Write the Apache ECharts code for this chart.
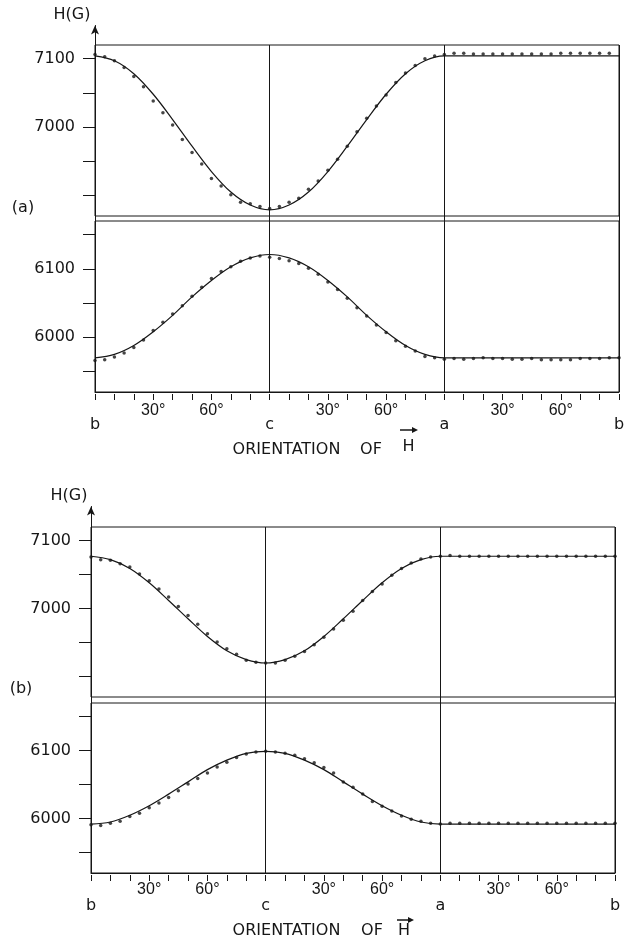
<!DOCTYPE html>
<html><head><meta charset="utf-8">
<script src="https://cdn.jsdelivr.net/npm/echarts@6/dist/echarts.min.js"></script>
<style>html,body{margin:0;padding:0;background:#fff}#c{width:624px;height:941px}</style>
</head><body><div id="c"></div><script>
// ---- data (angles in degrees along b -> c -> a -> b) ----
const lineAngles = [0,10,20,30,40,50,60,70,80,90,100,110,120,130,140,150,160,170,180,190,200,210,220,230,240,250,260,270];
const dotAngles = [0,5,10,15,20,25,30,35,40,45,50,55,60,65,70,75,80,85,90,95,100,105,110,115,120,125,130,135,140,145,150,155,160,165,170,175,180,185,190,195,200,205,210,215,220,225,230,235,240,245,250,255,260,265,270];
const degreeLabelAngles = [30,60,120,150,210,240];
const axisLetterAngles = [0,90,180,270];
const axisLetters = ['b','c','a','b'];
const upperTicks = [6900,6950,7000,7050,7100];
const upperLabels = [7000,7100];
const lowerTicks = [5950,6000,6050,6100,6150];
const lowerLabels = [6000,6100];

// panel (a)
const lineAUpper = [7104,7097,7078,7048,7011,6972,6935,6905,6886,6879,6886,6905,6935,6972,7011,7048,7078,7097,7104,7104,7104,7104,7104,7104,7104,7104,7104,7104];
const dotsAUpper = [7106,7103,7097,7087,7074,7059,7038,7021,7003,6982,6963,6946,6925,6914,6901,6890,6888,6884,6881,
  6884,6890,6896,6909,6921,6937,6953,6972,6993,7013,7031,7047,7065,7079,7090,7100,7104,7106,
  7108,7108,7107,7107,7107,7107,7107,7107,7107,7107,7107,7108,7108,7108,7108,7108,7108,null];
const lineALower = [5970,5975,5988,6008,6032,6059,6083,6103,6116,6121,6116,6103,6083,6059,6032,6008,5988,5975,5970,5970,5970,5970,5970,5970,5970,5970,5970,5970];
const dotsALower = [5966,5967,5971,5977,5985,5996,6010,6022,6034,6046,6060,6073,6086,6096,6103,6111,6116,6119,6117,
  6115,6112,6108,6101,6092,6081,6070,6057,6043,6031,6018,6007,5995,5987,5980,5972,5970,5968,
  5969,5968,5969,5970,5969,5969,5968,5968,5969,5967,5967,5967,5967,5969,5969,5969,5970,5970];
// panel (b)
const lineBUpper = [7077,7072,7059,7038,7012,6985,6959,6938,6925,6920,6925,6938,6959,6985,7012,7038,7059,7072,7077,7077,7077,7077,7077,7077,7077,7077,7077,7077];
const dotsBUpper = [7076,7072,7071,7066,7061,7051,7041,7029,7017,7003,6990,6977,6963,6951,6941,6933,6924,6921,6920,
  6920,6924,6930,6937,6947,6958,6970,6983,6996,7012,7025,7036,7049,7059,7067,7073,7076,7077,
  7078,7077,7077,7077,7077,7077,7077,7077,7077,7077,7077,7077,7077,7077,7077,7077,7077,7077];
const lineBLower = [5992,5995,6005,6019,6036,6054,6072,6086,6096,6099,6096,6086,6072,6054,6036,6019,6005,5995,5992,5992,5992,5992,5992,5992,5992,5992,5992,5992];
const dotsBLower = [5991,5990,5993,5996,6003,6008,6016,6023,6031,6041,6051,6059,6067,6076,6083,6090,6095,6098,6099,
  6098,6096,6093,6088,6082,6075,6067,6054,6046,6036,6025,6018,6011,6004,5999,5996,5993,5992,
  5993,5993,5993,5993,5993,5993,5993,5993,5993,5993,5993,5993,5993,5993,5993,5993,5993,5993];

// ---- layout ----
const INK = '#161616';
const FONT = 'DejaVu Sans';
const panels = [
  {tag:'(a)', left:95, width:524, upTop:45, loTop:221, h:171, tip:21, hgX:72, hgY:15, tagX:23, tagY:208,
   titleY:450, hY:447, arrowY:430, oX:[286.5,371,408.5], hArrow:[400,417],
   up:lineAUpper, upDots:dotsAUpper, lo:lineALower, loDots:dotsALower, degMargin:11, letMargin:25},
  {tag:'(b)', left:91, width:524, upTop:527, loTop:703, h:170, tip:502, hgX:69, hgY:496, tagX:21, tagY:689,
   titleY:931, hY:931, arrowY:920, oX:[286.5,372,404], hArrow:[397,413],
   up:lineBUpper, upDots:dotsBUpper, lo:lineBLower, loDots:dotsBLower, degMargin:9, letMargin:25}
];

const grid = [], xAxis = [], yAxis = [], series = [], graphic = [];
const hidden = {axisLine:{show:false}, axisTick:{show:false}, axisLabel:{show:false}, splitLine:{show:false}};
const gridBase = {containLabel:false, outerBoundsMode:'none'};

function yAx(gi, min, max, ticks, labels){
  return {type:'value', gridIndex:gi, min, max,
    axisLine:{show:true, lineStyle:{color:INK, width:1}},
    axisTick:{show:true, length:12, customValues:ticks, lineStyle:{color:INK, width:1}},
    axisLabel:{customValues:labels, formatter:(v)=> String(v), margin:20, color:INK, fontFamily:FONT, fontSize:16},
    splitLine:{show:false}};
}

panels.forEach((p) => {
  const g0 = grid.length;
  // background grid: vertical c / a lines across both boxes
  grid.push(Object.assign({left:p.left, width:p.width, top:p.upTop, height:p.loTop + p.h - p.upTop, show:false}, gridBase));
  xAxis.push(Object.assign({type:'value', gridIndex:g0, min:0, max:270, interval:90}, hidden,
    {splitLine:{show:true, lineStyle:{color:INK, width:1}}}));
  yAxis.push(Object.assign({type:'value', gridIndex:g0, min:0, max:1}, hidden));
  // upper box
  grid.push(Object.assign({left:p.left, width:p.width, top:p.upTop, height:p.h, show:true, borderColor:INK, borderWidth:1, backgroundColor:'transparent'}, gridBase));
  xAxis.push(Object.assign({type:'value', gridIndex:g0+1, min:0, max:270}, hidden));
  yAxis.push(yAx(g0+1, 6870, 7120, upperTicks, upperLabels));
  // lower box
  grid.push(Object.assign({left:p.left, width:p.width, top:p.loTop, height:p.h, show:true, borderColor:INK, borderWidth:1, backgroundColor:'transparent'}, gridBase));
  xAxis.push({type:'value', gridIndex:g0+2, min:0, max:270, position:'bottom',
    axisLine:{show:true, lineStyle:{color:INK, width:1}},
    axisTick:{show:false},
    axisLabel:{customValues:degreeLabelAngles, formatter:(v)=> (v % 90) + '°', margin:p.degMargin,
      color:INK, fontFamily:'Liberation Sans Narrow, Liberation Sans', fontSize:16},
    splitLine:{show:false}});
  xAxis.push({type:'value', gridIndex:g0+2, min:0, max:270, position:'bottom',
    axisLine:{show:false}, axisTick:{show:false}, splitLine:{show:false},
    axisLabel:{customValues:axisLetterAngles, formatter:(v)=> axisLetters[axisLetterAngles.indexOf(v)],
      margin:p.letMargin, color:INK, fontFamily:FONT, fontSize:16}});
  yAxis.push(yAx(g0+2, 5920, 6170, lowerTicks, lowerLabels));
  // arrow of the H axis
  grid.push(Object.assign({left:p.left, width:10, top:p.tip + 4.5, height:p.upTop - p.tip - 4.5, show:false}, gridBase));
  xAxis.push(Object.assign({type:'value', gridIndex:g0+3, min:0, max:1}, hidden));
  yAxis.push(Object.assign({type:'value', gridIndex:g0+3, min:0, max:1}, hidden,
    {axisLine:{show:true, symbol:['none','arrow'], symbolSize:[6,9], lineStyle:{color:INK, width:1}}}));
  // 10-degree ticks pointing up into the lower box (top axis of a strip just below the box)
  grid.push(Object.assign({left:p.left, width:p.width, top:p.loTop + p.h, height:8, show:false}, gridBase));
  xAxis.push({type:'value', gridIndex:g0+4, min:0, max:270, interval:10, position:'top',
    axisLine:{show:false}, axisLabel:{show:false}, splitLine:{show:false},
    axisTick:{show:true, inside:false, length:6, lineStyle:{color:INK, width:1}}});
  yAxis.push(Object.assign({type:'value', gridIndex:g0+4, min:0, max:1}, hidden));

  const xi = (k) => xAxis.findIndex((a) => a.gridIndex === k);
  const yi = (k) => yAxis.findIndex((a) => a.gridIndex === k);
  [[g0+1, p.up, p.upDots], [g0+2, p.lo, p.loDots]].forEach(([gi, ln, dots]) => {
    series.push({type:'line', xAxisIndex:xi(gi), yAxisIndex:yi(gi), smooth:0.35, showSymbol:false, symbol:'none',
      lineStyle:{color:INK, width:1.2}, data:lineAngles.map((a, i) => [a, ln[i]]), z:3, silent:true});
    series.push({type:'scatter', xAxisIndex:xi(gi), yAxisIndex:yi(gi), symbol:'circle', symbolSize:3.5,
      itemStyle:{color:INK}, data:dotAngles.map((a, i) => [a, dots[i]]).filter(d => d[1] != null), z:4, silent:true});
  });

  // texts
  const T = (x, y, text) => ({type:'text', x, y, style:{text, fill:INK, font:'16px ' + FONT, align:'center', verticalAlign:'middle'}});
  graphic.push(T(p.hgX, p.hgY, 'H(G)'));
  graphic.push(T(p.tagX, p.tagY, p.tag));
  graphic.push(T(p.oX[0], p.titleY, 'ORIENTATION'));
  graphic.push(T(p.oX[1], p.titleY, 'OF'));
  graphic.push(T(p.oX[2], p.hY, 'H'));
  graphic.push({type:'line', shape:{x1:p.hArrow[0], y1:p.arrowY, x2:p.hArrow[1] - 3, y2:p.arrowY}, style:{stroke:INK, lineWidth:1.5}});
  graphic.push({type:'polygon', shape:{points:[[p.hArrow[1] + 1, p.arrowY], [p.hArrow[1] - 5, p.arrowY - 3], [p.hArrow[1] - 5, p.arrowY + 3]]}, style:{fill:INK}});
});

const chart = echarts.init(document.getElementById('c'));
chart.setOption({animation:false, backgroundColor:'#fff', grid, xAxis, yAxis, series, graphic});
</script></body></html>
